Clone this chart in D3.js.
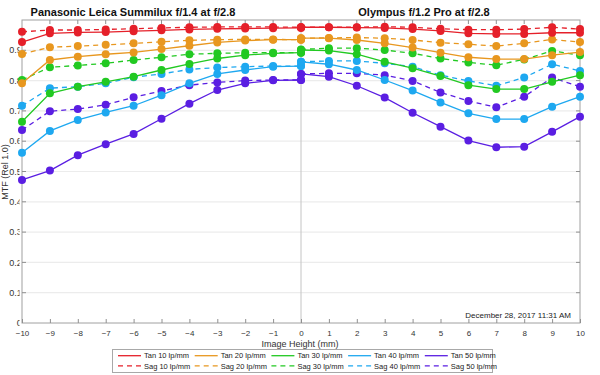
<!DOCTYPE html>
<html><head><meta charset="utf-8">
<script src="https://cdn.jsdelivr.net/npm/d3@7"></script>
<style>body{margin:0;background:#fff}svg{display:block;font-family:"Liberation Sans",Arial,sans-serif}</style>
</head><body><svg id="c" width="600" height="375"></svg>
<script>
// Image height positions (mm)
const leftHeights = [-10,-9,-8,-7,-6,-5,-4,-3,-2,-1,0];
const rightHeights = [0,1,2,3,4,5,6,7,8,9,10];
const xTicks = [-10,-9,-8,-7,-6,-5,-4,-3,-2,-1,0,1,2,3,4,5,6,7,8,9,10];
const yTicks = [0,0.1,0.2,0.3,0.4,0.5,0.6,0.7,0.8,0.9];
const yTickLabels = ["0","0.1","0.2","0.3","0.4","0.5","0.6","0.7","0.8","0.9"];

// Panasonic Leica Summilux f/1.4 at f/2.8 (left half)
const panTan10 = [0.927,0.956,0.959,0.960,0.963,0.966,0.969,0.971,0.972,0.973,0.974];
const panSag10 = [0.961,0.967,0.967,0.969,0.971,0.974,0.976,0.977,0.977,0.977,0.976];
const panTan20 = [0.791,0.868,0.879,0.887,0.893,0.904,0.915,0.926,0.932,0.935,0.935];
const panSag20 = [0.888,0.910,0.914,0.918,0.923,0.928,0.933,0.935,0.936,0.936,0.935];
const panTan30 = [0.664,0.758,0.780,0.796,0.813,0.835,0.855,0.873,0.884,0.890,0.892];
const panSag30 = [0.802,0.844,0.850,0.857,0.868,0.877,0.887,0.890,0.892,0.892,0.892];
const panTan40 = [0.562,0.634,0.670,0.695,0.717,0.752,0.791,0.822,0.835,0.846,0.848];
const panSag40 = [0.717,0.775,0.780,0.791,0.811,0.822,0.837,0.843,0.846,0.848,0.848];
const panTan50 = [0.472,0.503,0.554,0.590,0.624,0.674,0.724,0.769,0.791,0.801,0.802];
const panSag50 = [0.637,0.699,0.706,0.720,0.745,0.766,0.785,0.794,0.800,0.802,0.802];

// Olympus f/1.2 Pro at f/2.8 (right half)
const olyTan10 = [0.976,0.976,0.975,0.974,0.970,0.964,0.956,0.954,0.954,0.958,0.958];
const olySag10 = [0.976,0.976,0.976,0.978,0.976,0.971,0.968,0.968,0.970,0.976,0.970];
const olyTan20 = [0.940,0.940,0.934,0.923,0.909,0.892,0.877,0.871,0.871,0.884,0.894];
const olySag20 = [0.940,0.941,0.942,0.940,0.934,0.925,0.920,0.914,0.923,0.936,0.927];
const olyTan30 = [0.901,0.899,0.887,0.862,0.841,0.815,0.785,0.772,0.772,0.796,0.818];
const olySag30 = [0.903,0.907,0.907,0.901,0.890,0.873,0.860,0.851,0.870,0.898,0.884];
const olyTan40 = [0.862,0.854,0.835,0.802,0.767,0.728,0.692,0.673,0.673,0.714,0.747];
const olySag40 = [0.862,0.865,0.865,0.857,0.846,0.818,0.799,0.783,0.810,0.854,0.832];
const olyTan50 = [0.822,0.813,0.783,0.744,0.694,0.648,0.602,0.580,0.582,0.631,0.681];
const olySag50 = [0.822,0.824,0.824,0.818,0.799,0.761,0.733,0.712,0.747,0.810,0.780];

const freqs = ["10","20","30","40","50"];
const colors = ["#e5202a","#e8971f","#22c922","#1ea8f0","#5a1ee2"];
const titles = ["Panasonic Leica Summilux f/1.4 at f/2.8","Olympus f/1.2 Pro at f/2.8"];
const dateText = "December 28, 2017 11:31 AM";

const panTan = [panTan10,panTan20,panTan30,panTan40,panTan50];
const panSag = [panSag10,panSag20,panSag30,panSag40,panSag50];
const olyTan = [olyTan10,olyTan20,olyTan30,olyTan40,olyTan50];
const olySag = [olySag10,olySag20,olySag30,olySag40,olySag50];

const svg = d3.select("#c");
const L=22, R=580, T=20, B=323;
const x = d3.scaleLinear().domain([-10,10]).range([L,R]);
const y = d3.scaleLinear().domain([0,1]).range([B,T]);

// gridlines
svg.append("g").selectAll("line").data(yTicks.filter(v=>v>0)).join("line")
  .attr("x1",L).attr("x2",R).attr("y1",d=>y(d)).attr("y2",d=>y(d))
  .attr("stroke","#ececec").attr("stroke-width",1.2);
// center divider
svg.append("line").attr("x1",x(0)).attr("x2",x(0)).attr("y1",T).attr("y2",B)
  .attr("stroke","#c4c4c4").attr("stroke-width",1);

// frame
svg.append("rect").attr("x",L).attr("y",T).attr("width",R-L).attr("height",B-T)
  .attr("fill","none").attr("stroke","#a0a0a0").attr("stroke-width",1);

// bottom axis
const gx = svg.append("g").attr("transform",`translate(0,${B})`)
  .call(d3.axisBottom(x).tickValues(xTicks).tickSize(-4).tickPadding(7).tickFormat(d3.format("d")));
gx.select(".domain").remove();
gx.selectAll("line").attr("stroke","#909090");
gx.selectAll("text").attr("font-size","8px").attr("fill","#333").attr("font-family","Liberation Sans, Arial, sans-serif");
// top ticks
svg.append("g").selectAll("line").data(xTicks.slice(1,-1)).join("line")
  .attr("x1",d=>x(d)).attr("x2",d=>x(d)).attr("y1",T).attr("y2",T+4).attr("stroke","#909090");
// left and right ticks
svg.append("g").selectAll("line").data(yTicks.slice(1)).join("line")
  .attr("x1",L).attr("x2",L+4).attr("y1",d=>y(d)).attr("y2",d=>y(d)).attr("stroke","#909090");
svg.append("g").selectAll("line").data(yTicks.slice(1)).join("line")
  .attr("x1",R-4).attr("x2",R).attr("y1",d=>y(d)).attr("y2",d=>y(d)).attr("stroke","#909090");

// y tick labels (clipped like the reference)
svg.append("clipPath").attr("id","ylab").append("rect").attr("x",0).attr("y",0).attr("width",19.5).attr("height",375);
svg.append("g").attr("clip-path","url(#ylab)").selectAll("text").data(yTicks).join("text")
  .attr("x",21.8).attr("y",d=>y(d)).attr("dy","0.35em").attr("text-anchor","end")
  .attr("font-size","9px").attr("fill","#333").text((d,i)=>yTickLabels[i]);

// axis titles
svg.append("text").attr("transform","translate(8,172) rotate(-90)").attr("text-anchor","middle")
  .attr("font-size","9px").attr("fill","#333").text("MTF (Rel 1.0)");
svg.append("text").attr("x",300).attr("y",347).attr("text-anchor","middle")
  .attr("font-size","9px").attr("fill","#333").text("Image Height (mm)");

// chart titles
svg.append("text").attr("x",133).attr("y",15.5).attr("text-anchor","middle")
  .attr("font-size","11px").attr("font-weight","bold").attr("fill","#111").text(titles[0]);
svg.append("text").attr("x",424).attr("y",15.5).attr("text-anchor","middle")
  .attr("font-size","11px").attr("font-weight","bold").attr("fill","#111").text(titles[1]);

// date
svg.append("text").attr("x",571).attr("y",318).attr("text-anchor","end")
  .attr("font-size","8px").attr("fill","#222").text(dateText);

// series
const line = d3.line().x(d=>x(d[0])).y(d=>y(d[1]));
function drawSeries(hs, vals, color, dashed){
  const pts = hs.map((h,i)=>[h,vals[i]]);
  svg.append("path").datum(pts).attr("d",line).attr("fill","none")
    .attr("stroke",color).attr("stroke-width",1.3)
    .attr("stroke-dasharray",dashed?"5,4":null);
  svg.append("g").selectAll("circle").data(pts).join("circle")
    .attr("cx",d=>x(d[0])).attr("cy",d=>y(d[1])).attr("r",4).attr("fill",color);
}
for(let k=4;k>=0;k--){
  drawSeries(leftHeights, panSag[k], colors[k], true);
  drawSeries(leftHeights, panTan[k], colors[k], false);
  drawSeries(rightHeights, olySag[k], colors[k], true);
  drawSeries(rightHeights, olyTan[k], colors[k], false);
}

// legend
const lg = svg.append("g");
lg.append("rect").attr("x",112.5).attr("y",349.5).attr("width",380).attr("height",23)
  .attr("fill","#fff").attr("stroke","#a8a8a8");
freqs.forEach((f,i)=>{
  const lx = 118 + i*76.7;
  [["Tan",355.7,null],["Sag",365.9,"5,4"]].forEach(([t,ly,dash])=>{
    lg.append("line").attr("x1",lx).attr("x2",lx+23).attr("y1",ly).attr("y2",ly)
      .attr("stroke",colors[i]).attr("stroke-width",1.3).attr("stroke-dasharray",dash);
    lg.append("text").attr("x",lx+26).attr("y",ly).attr("dy","0.35em")
      .attr("font-size","7.5px").attr("fill","#222").text(`${t} ${f} lp/mm`);
  });
});
</script></body></html>
